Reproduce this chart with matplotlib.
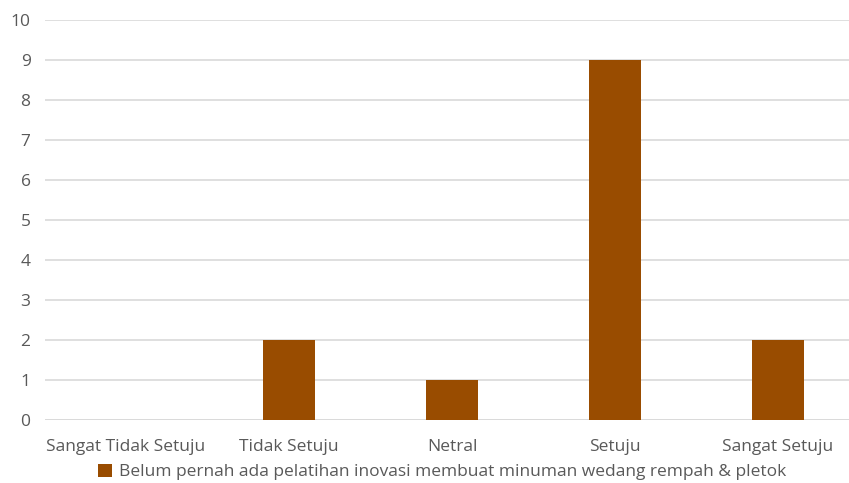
import numpy as np
import matplotlib
matplotlib.use("Agg")
import matplotlib.pyplot as plt
from matplotlib.patches import Patch

categories = ["Sangat Tidak Setuju", "Tidak Setuju", "Netral", "Setuju", "Sangat Setuju"]
values = [0, 2, 1, 9, 2]
series_name = "Belum pernah ada pelatihan inovasi membuat minuman wedang rempah & pletok"
y_ticks = list(range(0, 11))

bar_color = "#994C00"
text_color = "#595959"
grid_color = "#D9D9D9"

plt.rcParams["font.family"] = ["Open Sans", "DejaVu Sans"]

fig = plt.figure(figsize=(8.49, 4.83), dpi=100)
# plot area runs a little past the right edge, as in the original
ax = fig.add_axes([44.5 / 849, 63 / 483, 815 / 849, 400 / 483])

x = np.arange(len(categories))
ax.bar(x, values, width=0.32, color=bar_color, zorder=3)

ax.set_xlim(-0.5, len(categories) - 0.5)
ax.set_ylim(0, 10)
ax.set_yticks(y_ticks)
ax.set_xticks(x)
ax.set_xticklabels(categories)
ax.grid(axis="y", color=grid_color, linewidth=1.2, zorder=0)
for s in ax.spines.values():
    s.set_visible(False)
ax.tick_params(axis="both", length=0, labelsize=12.5, colors=text_color, labelcolor=text_color)
ax.tick_params(axis="x", pad=14)
ax.tick_params(axis="y", pad=10)
ax.axhline(0, color=grid_color, linewidth=1.2, zorder=2)

handle = Patch(facecolor=bar_color, edgecolor="none")
fig.legend([handle], [series_name], loc="center", bbox_to_anchor=(442 / 849, 1 - 472 / 483),
           frameon=False, fontsize=12.5, labelcolor=text_color, handlelength=0.8, handleheight=0.8,
           handletextpad=0.4)

fig.savefig("out.png", dpi=100)
